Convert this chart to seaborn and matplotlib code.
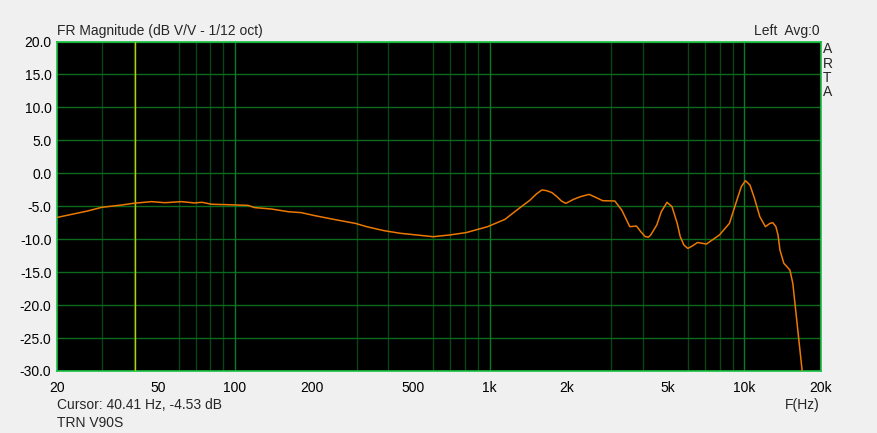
import numpy as np
import pandas as pd
import seaborn as sns
import matplotlib
matplotlib.use("Agg")
import matplotlib.pyplot as plt
from matplotlib.ticker import FixedLocator, NullFormatter

# frequency response
freq = [20, 26.5, 30, 35.9, 40.4, 47, 53, 61.7, 69.3, 74.2, 81, 94.6, 112.6, 119.2,
        139, 162, 182, 206, 244, 297, 329, 384, 445, 517, 600, 696, 808, 981,
        1147, 1307, 1437, 1525, 1603, 1676, 1758, 1838, 1912, 1990, 2136, 2270,
        2455, 2575, 2780, 3100, 3300, 3550, 3770, 3920, 4080, 4200, 4290, 4530,
        4720, 4970, 5200, 5450, 5600, 5790, 6000, 6250, 6550, 7100, 7980, 8740,
        9440, 9730, 10100, 10520, 10960, 11500, 12100, 12600, 12940, 13300,
        13560, 13800, 14290, 14700, 15100, 15500, 15800, 16880, 17300]
mag = [-6.7, -5.7, -5.16, -4.81, -4.53, -4.3, -4.46, -4.3, -4.5, -4.4, -4.7, -4.77,
       -4.87, -5.2, -5.42, -5.83, -5.97, -6.43, -6.99, -7.6, -8.1, -8.7, -9.1,
       -9.36, -9.62, -9.36, -9.0, -8.1, -7.0, -5.3, -4.1, -3.14, -2.53, -2.64,
       -2.94, -3.55, -4.2, -4.56, -3.95, -3.55, -3.2, -3.55, -4.16, -4.2, -5.57,
       -8.1, -8.0, -8.86, -9.6, -9.7, -9.36, -7.85, -5.83, -4.4, -5.07, -7.6,
       -9.6, -10.88, -11.4, -11.03, -10.5, -10.73, -9.36, -7.6, -3.55, -2.03,
       -1.12, -1.78, -3.8, -6.58, -8.1, -7.6, -7.5, -8.1, -9.36, -11.64, -13.66,
       -14.17, -14.7, -16.7, -19.7, -30.1, -33.0]

xticks = [20, 50, 100, 200, 500, 1000, 2000, 5000, 10000, 20000]
xticklabels = ["20", "50", "100", "200", "500", "1k", "2k", "5k", "10k", "20k"]
yticks = [20, 15, 10, 5, 0, -5, -10, -15, -20, -25, -30]
cursor_f = 40.41

sns.set_style("dark")
plt.rcParams["font.family"] = ["Liberation Sans", "DejaVu Sans"]

fig = plt.figure(figsize=(8.77, 4.33), dpi=100, facecolor="#f0f0f0")
ax = fig.add_axes([57 / 877, 62 / 433, 764 / 877, 329.5 / 433])
ax.set_facecolor("black")

df = pd.DataFrame({"f": freq, "dB": mag})
sns.lineplot(data=df, x="f", y="dB", ax=ax, color="#ec7800", linewidth=1.1,
             estimator=None, sort=False, zorder=5)

ax.set_xscale("log")
ax.set_xlim(20, 20000)
ax.set_ylim(-30, 20)

# grid: minor lines every 1..9 per decade, brighter at the decades
grid_f = [m * 10 ** e for e in range(1, 5) for m in range(1, 10) if 20 < m * 10 ** e < 20000]
ax.xaxis.set_minor_locator(FixedLocator(grid_f))
ax.xaxis.set_minor_formatter(NullFormatter())
ax.grid(False)
ax.grid(True, which="minor", axis="x", color="#074414", linewidth=1.0)
ax.grid(True, which="major", axis="y", color="#0b6a1e", linewidth=1.0)
for f in [100, 1000, 10000]:
    ax.axvline(f, color="#0c7a24", linewidth=1.0, zorder=1)
ax.axvline(cursor_f, color="#c8c800", linewidth=1.0, zorder=4)

ax.set_xticks(xticks)
ax.set_xticklabels(xticklabels)
ax.set_yticks(yticks)
ax.set_yticklabels([f"{v:.1f}" for v in yticks])
ax.tick_params(axis="both", length=0, labelsize=10, colors="black")
ax.tick_params(axis="x", pad=7)
ax.tick_params(axis="y", pad=4)
ax.set_xlabel("")
ax.set_ylabel("")
for s in ax.spines.values():
    s.set_color("#18c040")
    s.set_linewidth(1.2)

fig.text(57 / 877, 1 - 31 / 433, "FR Magnitude (dB V/V - 1/12 oct)", fontsize=10,
         ha="left", va="center")
fig.text(820 / 877, 1 - 31 / 433, "Left  Avg:0", fontsize=10, ha="right", va="center")
for i, ch in enumerate("ARTA"):
    fig.text(823 / 877, 1 - (49 + i * 14.5) / 433, ch, fontsize=10, ha="left", va="center")
fig.text(57 / 877, 1 - 405 / 433, "Cursor: 40.41 Hz, -4.53 dB", fontsize=10,
         ha="left", va="center")
fig.text(57 / 877, 1 - 423 / 433, "TRN V90S", fontsize=10, ha="left", va="center")
fig.text(820 / 877, 1 - 405 / 433, "F(Hz)", fontsize=10, ha="right", va="center")

fig.savefig("out.png", dpi=100, facecolor=fig.get_facecolor())
